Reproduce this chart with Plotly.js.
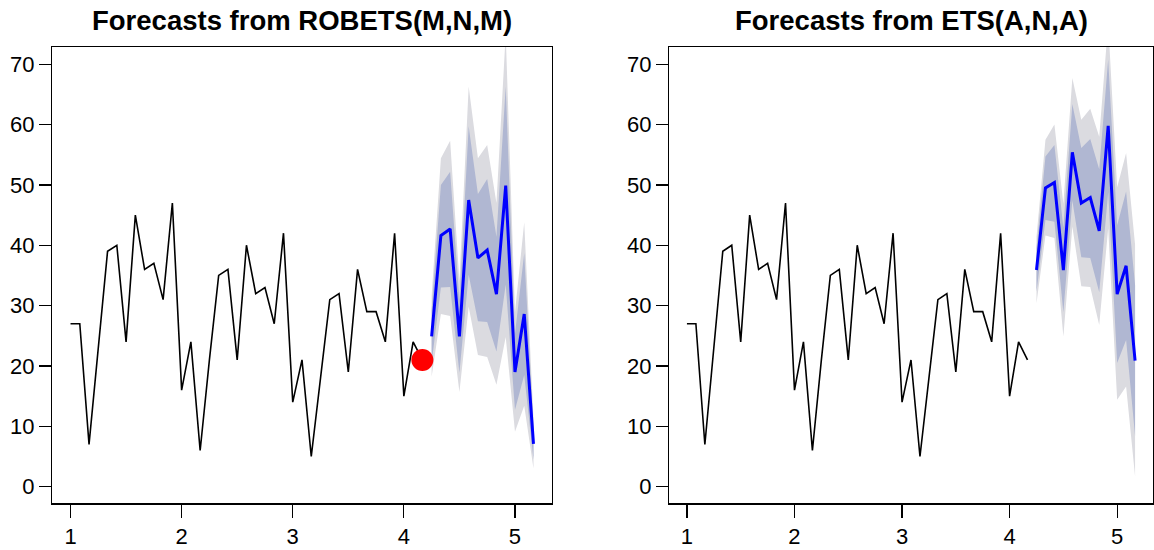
<!DOCTYPE html>
<html>
<head>
<meta charset="utf-8">
<script src="https://cdn.plot.ly/plotly-3.0.1.min.js"></script>
<style>html,body{margin:0;padding:0;background:#fff;}#chart{width:1154px;height:550px;}</style>
</head>
<body>
<div id="chart"></div>
<script>
// Observed monthly series (frequency 12, starting at time 1)
const obsStart = 1;
const frequency = 12;
const observed = [27,27,7,23,39,40,24,45,36,37,31,47,
                  16,24,6,21,35,36,21,40,32,33,27,42,
                  14,21,5,18,31,32,19,36,29,29,24,42,
                  15,24,21];

// ROBETS(M,N,M) forecasts
const robetsMean = [24.9,41.6,42.7,24.9,47.5,37.9,39.2,31.9,49.9,19.0,28.6,7.1];
const robetsLo80 = [20.5,33.0,33.1,18.9,35.1,27.4,27.3,22.4,33.5,12.7,18.5,4.5];
const robetsHi80 = [29.3,50.0,52.2,30.9,59.7,48.5,51.0,41.4,66.3,25.3,38.7,9.7];
const robetsLo95 = [18.2,28.6,28.3,15.7,29.8,21.8,21.5,16.9,24.8,9.1,13.4,3.0];
const robetsHi95 = [31.6,54.4,57.3,34.1,66.3,54.4,56.6,47.0,75.0,28.9,43.8,11.2];

// ETS(A,N,A) forecasts
const etsMean = [35.9,49.5,50.4,35.9,55.4,47.0,47.9,42.4,59.8,31.9,36.6,20.9];
const etsLo80 = [32.3,44.2,43.9,28.9,47.4,38.0,37.9,32.2,48.8,20.5,24.3,8.4];
const etsHi80 = [39.5,54.7,56.6,42.9,63.4,56.1,57.6,52.6,70.8,43.3,48.9,33.4];
const etsLo95 = [30.4,41.6,41.2,24.9,43.1,33.2,33.1,26.8,42.8,14.4,16.6,1.7];
const etsHi95 = [41.4,57.5,60.0,46.9,67.7,60.8,62.6,58.0,76.8,49.6,55.3,40.1];

// Outlier flagged by ROBETS (last observation)
const outlierIndex = [38];

const xTicks = [1,2,3,4,5];
const yTicks = [0,10,20,30,40,50,60,70];
const titles = ["Forecasts from ROBETS(M,N,M)", "Forecasts from ETS(A,N,A)"];

const obsTime = observed.map((_, i) => obsStart + i / frequency);
const fcTime = robetsMean.map((_, i) => obsStart + (observed.length + i) / frequency);

const LIGHT = "rgb(219,219,224)";
const DARK = "rgb(176,183,210)";

function band(lo, hi, color, xa, ya) {
  return {
    x: fcTime.concat(fcTime.slice().reverse()),
    y: hi.concat(lo.slice().reverse()),
    fill: "toself", fillcolor: color, mode: "lines",
    line: {width: 0, color: color}, xaxis: xa, yaxis: ya,
    hoverinfo: "skip", showlegend: false
  };
}

const traces = [
  {x: obsTime, y: observed, mode: "lines", line: {color: "black", width: 1.6}, xaxis: "x", yaxis: "y", showlegend: false},
  band(robetsLo95, robetsHi95, LIGHT, "x", "y"),
  band(robetsLo80, robetsHi80, DARK, "x", "y"),
  {x: fcTime, y: robetsMean, mode: "lines", line: {color: "#0000FF", width: 3}, xaxis: "x", yaxis: "y", showlegend: false},
  {x: outlierIndex.map(i => obsTime[i]), y: outlierIndex.map(i => observed[i]), mode: "markers",
   marker: {color: "#FF0000", size: 22}, xaxis: "x", yaxis: "y", showlegend: false},

  {x: obsTime, y: observed, mode: "lines", line: {color: "black", width: 1.6}, xaxis: "x2", yaxis: "y2", showlegend: false},
  band(etsLo95, etsHi95, LIGHT, "x2", "y2"),
  band(etsLo80, etsHi80, DARK, "x2", "y2"),
  {x: fcTime, y: etsMean, mode: "lines", line: {color: "#0000FF", width: 3}, xaxis: "x2", yaxis: "y2", showlegend: false}
];

const W = 1154, H = 550;
const tickFont = {family: "Liberation Sans, Arial, sans-serif", size: 22, color: "black"};
function xax(domain, anchor) {
  return {domain: domain, anchor: anchor, range: [0.8333, 5.3333], tickmode: "array",
    tickvals: xTicks, ticktext: xTicks.map(String), ticks: "outside", ticklen: 13, tickwidth: 1.2,
    tickcolor: "black", showline: true, linecolor: "black", linewidth: 1.2, mirror: true,
    showgrid: false, zeroline: false, tickfont: tickFont, fixedrange: true};
}
function yax(anchor) {
  return {domain: [46.7 / H, 1 - 46.7 / H], anchor: anchor, range: [-2.75, 72.9], tickmode: "array",
    tickvals: yTicks, ticktext: yTicks.map(String), ticks: "outside", ticklen: 12, tickwidth: 1.2,
    tickcolor: "black", showline: true, linecolor: "black", linewidth: 1.2, mirror: true,
    showgrid: false, zeroline: false, tickfont: tickFont, fixedrange: true};
}

const dom1 = [52 / W, 552 / W];
const dom2 = [669 / W, 1153 / W];

const layout = {
  width: W, height: H,
  margin: {l: 0, r: 0, t: 0, b: 0},
  paper_bgcolor: "white", plot_bgcolor: "white",
  showlegend: false,
  xaxis: xax(dom1, "y"), yaxis: yax("x"),
  xaxis2: xax(dom2, "y2"), yaxis2: yax("x2"),
  annotations: [
    {text: "<b>" + titles[0] + "</b>", xref: "paper", yref: "paper", x: (dom1[0] + dom1[1]) / 2, y: 1 - 20 / H,
     xanchor: "center", yanchor: "middle", showarrow: false,
     font: {family: "Liberation Sans, Arial, sans-serif", size: 27.5, color: "black"}},
    {text: "<b>" + titles[1] + "</b>", xref: "paper", yref: "paper", x: (dom2[0] + dom2[1]) / 2, y: 1 - 20 / H,
     xanchor: "center", yanchor: "middle", showarrow: false,
     font: {family: "Liberation Sans, Arial, sans-serif", size: 27.5, color: "black"}}
  ]
};

Plotly.newPlot("chart", traces, layout, {staticPlot: true, displayModeBar: false});
</script>
</body>
</html>
